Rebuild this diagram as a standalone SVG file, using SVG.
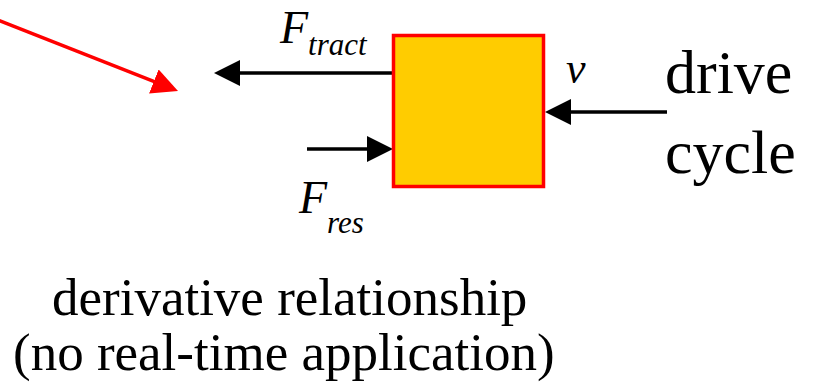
<svg xmlns="http://www.w3.org/2000/svg" width="814" height="388" viewBox="0 0 814 388">
<style>
text{font-family:'Liberation Serif','Times New Roman',serif;fill:#000}
.i{font-style:italic}
.ln{stroke:#000;stroke-width:3.5;fill:none}
.red{stroke:#ff0000;stroke-width:3.5;fill:none}
</style>
<defs>
<marker id="ah" viewBox="0 0 26 26" refX="6" refY="13" markerWidth="26" markerHeight="26" markerUnits="userSpaceOnUse" orient="auto"><path d="M0,0 L26,13 L0,26 z" fill="#000"/></marker>
<marker id="ahr" viewBox="0 0 26 26" refX="6" refY="13" markerWidth="26" markerHeight="26" markerUnits="userSpaceOnUse" orient="auto"><path d="M0,0 L26,13 L0,26 z" fill="#ff0000"/></marker>
</defs>
<g id="connectors">
<line class="red" x1="-2" y1="20" x2="159.4" y2="83.7" marker-end="url(#ahr)"/>
<line class="ln" x1="394" y1="73" x2="234" y2="73" marker-end="url(#ah)"/>
<line class="ln" x1="307" y1="149" x2="373" y2="149" marker-end="url(#ah)"/>
<line class="ln" x1="667" y1="112" x2="565" y2="112" marker-end="url(#ah)"/>
</g>
<g id="block">
<rect x="393.5" y="35.5" width="150" height="151" fill="#ffcc00" stroke="#ff0000" stroke-width="3.5"/>
</g>
<g id="label-ftract">
<text class="i" x="280" y="43" font-size="46">F<tspan font-size="31" dy="12">tract</tspan></text>
</g>
<g id="label-fres">
<text class="i" x="299" y="213" font-size="46">F<tspan font-size="31" dy="20">res</tspan></text>
</g>
<g id="label-v">
<text class="i" x="566" y="83" font-size="44">v</text>
</g>
<g id="drive-cycle">
<text x="665" y="93" font-size="62">drive</text>
<text x="665" y="173" font-size="62">cycle</text>
</g>
<g id="caption">
<text x="52" y="315" font-size="53">derivative relationship</text>
<text x="13" y="370" font-size="53">(no real-time application)</text>
</g>
</svg>
